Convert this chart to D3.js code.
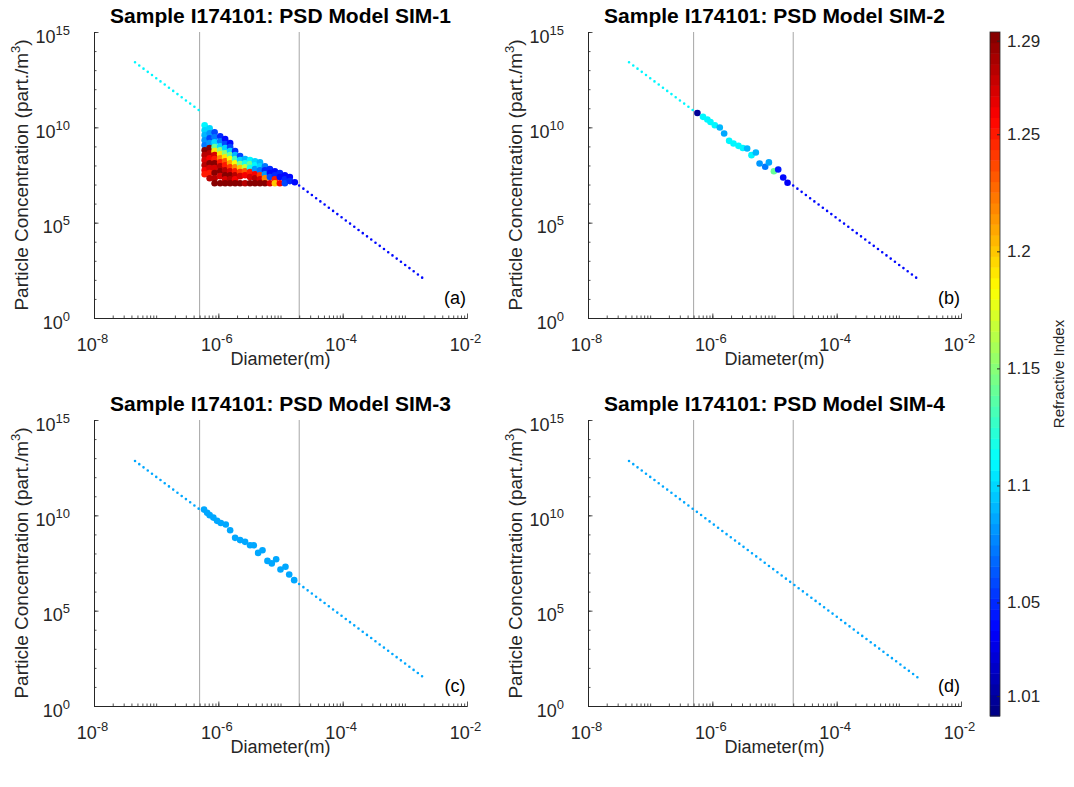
<!DOCTYPE html>
<html>
<head>
<meta charset="utf-8">
<script src="https://cdn.jsdelivr.net/npm/d3@7"></script>
<style>
  body { margin: 0; background: #fff; }
  text { font-family: Helvetica, Arial, "Liberation Sans", sans-serif; }
</style>
</head>
<body>
<svg id="viz"></svg>
<script>
// ----------------------------------------------------------------------------------------------------------------
// DATA

var panelTitles = [
  "Sample I174101: PSD Model SIM-1",
  "Sample I174101: PSD Model SIM-2",
  "Sample I174101: PSD Model SIM-3",
  "Sample I174101: PSD Model SIM-4"
];
var panelTags = ["(a)", "(b)", "(c)", "(d)"];

var xTickExp = [-8, -6, -4, -2];
var yTickExp = [0, 5, 10, 15];
var windowDiam = [5e-7, 2e-5];

var cbTickVals = [1.01, 1.05, 1.1, 1.15, 1.2, 1.25, 1.29];
var cbLimits = [1.0015, 1.2937];

// fitted power-law PSD outside the measured window: [log10 D, log10 C] ends, refractive index
var fitA = [
  {from: [-7.34, 13.41], to: [-6.30, 10.87], n: 1.11},
  {from: [-4.70, 6.95], to: [-2.69, 2.04], n: 1.04}
];
var fitB = [
  {from: [-7.34, 13.41], to: [-6.30, 10.87], n: 1.11},
  {from: [-4.70, 6.95], to: [-2.69, 2.04], n: 1.04}
];
var fitC = [
  {from: [-7.34, 12.85], to: [-6.30, 10.31], n: 1.085},
  {from: [-4.70, 6.40], to: [-2.69, 1.48], n: 1.085}
];
var fitD = [
  {from: [-7.34, 12.85], to: [-2.69, 1.48], n: 1.085}
];

// simulated points inside the window: [log10 D, log10 C, refractive index]
var simA = [
  [-6.22, 10.11, 1.11], [-6.22, 9.85, 1.10], [-6.22, 9.59, 1.09], [-6.22, 9.32, 1.08], [-6.22, 9.06, 1.07],
  [-6.22, 8.80, 1.29], [-6.22, 8.54, 1.28], [-6.22, 8.28, 1.27], [-6.22, 8.01, 1.28], [-6.22, 7.75, 1.26], [-6.22, 7.54, 1.25],
  [-6.14, 9.95, 1.10], [-6.14, 9.69, 1.08], [-6.14, 9.43, 1.06], [-6.14, 9.17, 1.08], [-6.14, 8.91, 1.29],
  [-6.14, 8.64, 1.28], [-6.14, 8.38, 1.26], [-6.14, 8.12, 1.29], [-6.14, 7.86, 1.27], [-6.14, 7.60, 1.25], [-6.14, 7.33, 1.28],
  [-6.06, 9.74, 1.06], [-6.06, 9.48, 1.07], [-6.06, 9.22, 1.10], [-6.06, 8.96, 1.14], [-6.06, 8.75, 1.19], [-6.06, 8.54, 1.27],
  [-6.06, 8.33, 1.25], [-6.06, 8.12, 1.29], [-6.06, 7.86, 1.27], [-6.06, 7.60, 1.29], [-6.06, 7.33, 1.28], [-6.06, 7.07, 1.29],
  [-5.97, 9.53, 1.05], [-5.97, 9.27, 1.07], [-5.97, 9.01, 1.10], [-5.97, 8.80, 1.15], [-5.97, 8.59, 1.19], [-5.97, 8.38, 1.22],
  [-5.97, 8.17, 1.25], [-5.97, 7.96, 1.28], [-5.97, 7.70, 1.29], [-5.97, 7.44, 1.27], [-5.97, 7.07, 1.29],
  [-5.89, 9.38, 1.04], [-5.89, 9.12, 1.06], [-5.89, 8.91, 1.10], [-5.89, 8.64, 1.15], [-5.89, 8.43, 1.19], [-5.89, 8.22, 1.23],
  [-5.89, 8.01, 1.25], [-5.89, 7.75, 1.28], [-5.89, 7.49, 1.29], [-5.89, 7.28, 1.27], [-5.89, 7.07, 1.29],
  [-5.81, 9.17, 1.04], [-5.81, 8.96, 1.06], [-5.81, 8.75, 1.10], [-5.81, 8.54, 1.14], [-5.81, 8.33, 1.18], [-5.81, 8.12, 1.21],
  [-5.81, 7.91, 1.24], [-5.81, 7.70, 1.27], [-5.81, 7.49, 1.29], [-5.81, 7.28, 1.28], [-5.81, 7.07, 1.29],
  [-5.73, 8.75, 1.05], [-5.73, 8.54, 1.09], [-5.73, 8.33, 1.13], [-5.73, 8.12, 1.18], [-5.73, 7.91, 1.22],
  [-5.73, 7.70, 1.25], [-5.73, 7.49, 1.28], [-5.73, 7.28, 1.26], [-5.73, 7.07, 1.29],
  [-5.65, 8.49, 1.06], [-5.65, 8.28, 1.10], [-5.65, 8.07, 1.15], [-5.65, 7.86, 1.20], [-5.65, 7.65, 1.24],
  [-5.65, 7.44, 1.27], [-5.65, 7.07, 1.29],
  [-5.57, 8.33, 1.09], [-5.57, 8.12, 1.12], [-5.57, 7.91, 1.17], [-5.57, 7.70, 1.23], [-5.57, 7.49, 1.26], [-5.57, 7.07, 1.28],
  [-5.49, 8.28, 1.11], [-5.49, 8.07, 1.14], [-5.49, 7.86, 1.12], [-5.49, 7.65, 1.25], [-5.49, 7.39, 1.27], [-5.49, 7.07, 1.29],
  [-5.41, 8.22, 1.10], [-5.41, 8.01, 1.11], [-5.41, 7.81, 1.08], [-5.41, 7.54, 1.26], [-5.41, 7.33, 1.28], [-5.41, 7.07, 1.29],
  [-5.33, 8.17, 1.09], [-5.33, 7.96, 1.10], [-5.33, 7.75, 1.07], [-5.33, 7.49, 1.24], [-5.33, 7.28, 1.27], [-5.33, 7.07, 1.29],
  [-5.25, 7.96, 1.07], [-5.25, 7.75, 1.05], [-5.25, 7.54, 1.08], [-5.25, 7.33, 1.22], [-5.25, 7.07, 1.29],
  [-5.17, 7.81, 1.05], [-5.17, 7.60, 1.04], [-5.17, 7.39, 1.06], [-5.17, 7.07, 1.27],
  [-5.09, 7.70, 1.04], [-5.09, 7.49, 1.05], [-5.09, 7.28, 1.25], [-5.09, 7.07, 1.20],
  [-5.01, 7.60, 1.05], [-5.01, 7.39, 1.04], [-5.01, 7.07, 1.26],
  [-4.93, 7.49, 1.04], [-4.93, 7.28, 1.05], [-4.93, 7.07, 1.06],
  [-4.85, 7.39, 1.04], [-4.85, 7.18, 1.05],
  [-4.77, 7.12, 1.04]
];

var simB = [
  [-6.24, 10.75, 1.01], [-6.15, 10.55, 1.11], [-6.08, 10.41, 1.11], [-6.03, 10.28, 1.11], [-5.96, 10.11, 1.11],
  [-5.88, 9.99, 1.09], [-5.81, 9.68, 1.085], [-5.73, 9.29, 1.11], [-5.66, 9.15, 1.11], [-5.58, 9.03, 1.11],
  [-5.51, 8.92, 1.11], [-5.44, 8.89, 1.09], [-5.37, 8.54, 1.11], [-5.30, 8.68, 1.09], [-5.24, 8.10, 1.08],
  [-5.15, 7.93, 1.07], [-5.09, 8.16, 1.085], [-5.01, 7.70, 1.14], [-4.94, 7.79, 1.045], [-4.86, 7.37, 1.04],
  [-4.79, 7.09, 1.035]
];

var simC = [
  [-6.23, 10.30, 1.085], [-6.18, 10.13, 1.085], [-6.14, 10.01, 1.085], [-6.08, 9.88, 1.085], [-6.02, 9.71, 1.085],
  [-5.96, 9.60, 1.085], [-5.88, 9.52, 1.085], [-5.81, 9.22, 1.085], [-5.73, 8.82, 1.085], [-5.65, 8.70, 1.085],
  [-5.57, 8.61, 1.085], [-5.49, 8.43, 1.085], [-5.43, 8.43, 1.085], [-5.36, 8.03, 1.085], [-5.29, 8.17, 1.085],
  [-5.21, 7.61, 1.085], [-5.14, 7.48, 1.085], [-5.07, 7.70, 1.085], [-5.00, 7.16, 1.085], [-4.92, 7.30, 1.085],
  [-4.86, 6.90, 1.085], [-4.78, 6.60, 1.085]
];

var simD = [];

var fits = [fitA, fitB, fitC, fitD];
var sims = [simA, simB, simC, simD];


// ----------------------------------------------------------------------------------------------------------------
// INITIAL SETUP

var w = 1074;
var h = 787;
var viz = d3.select("#viz").attr("width", w).attr("height", h);

var pw = 373, ph = 286;
var origins = [[94, 32], [588, 32], [94, 420], [588, 420]];
var axisColor = "#262626";

var x = d3.scaleLog().domain([1e-8, 1e-2]).range([0, pw]);
var y = d3.scaleLog().domain([1, 1e15]).range([ph, 0]);
var nScale = d3.scaleLinear().domain(cbLimits).range([0, 1]).clamp(true);

// matlab style jet, 64 steps
function jet(t) {
  function c(v) { return Math.max(0, Math.min(1, v)); }
  var r = c(1.5 - Math.abs(4 * t - 3));
  var g = c(1.5 - Math.abs(4 * t - 2));
  var b = c(1.5 - Math.abs(4 * t - 1));
  return d3.rgb(r * 255, g * 255, b * 255).formatHex();
}
function nColor(n) {
  var k = Math.min(63, Math.floor(nScale(n) * 64));
  return jet((k + 0.5) / 64);
}

// replace tick text with "10" + superscript
function powerLabel(sel, exp) {
  sel.text("10").append("tspan").attr("dy", -8).attr("font-size", 13).text(exp);
}


// ----------------------------------------------------------------------------------------------------------------
// PANELS

origins.forEach(function(o, i) {
  var g = viz.append("g").attr("transform", "translate(" + o[0] + "," + o[1] + ")");

  // window edges
  g.selectAll("line.win")
    .data(windowDiam)
    .enter()
    .append("line")
    .attr("class", "win")
    .attr("x1", function(d) { return x(d); })
    .attr("x2", function(d) { return x(d); })
    .attr("y1", 0)
    .attr("y2", ph)
    .attr("stroke", "#a6a6a6")
    .attr("stroke-width", 1);

  // minor ticks
  var xMinor = [];
  for (var e = -8; e < -2; e++) {
    for (var k = 1; k < 10; k++) xMinor.push(k * Math.pow(10, e));
  }
  var yMinor = d3.range(0, 16).map(function(e) { return Math.pow(10, e); });

  var gxm = g.append("g").attr("transform", "translate(0," + ph + ")")
    .call(d3.axisBottom(x).tickValues(xMinor).tickSizeInner(-2.5).tickSizeOuter(0).tickFormat(""));
  var gym = g.append("g")
    .call(d3.axisLeft(y).tickValues(yMinor).tickSizeInner(-2.5).tickSizeOuter(0).tickFormat(""));

  var gx = g.append("g").attr("transform", "translate(0," + ph + ")")
    .call(d3.axisBottom(x).tickValues(xTickExp.map(function(e) { return Math.pow(10, e); }))
      .tickSizeInner(-4.5).tickSizeOuter(0));
  var gy = g.append("g")
    .call(d3.axisLeft(y).tickValues(yTickExp.map(function(e) { return Math.pow(10, e); }))
      .tickSizeInner(-4.5).tickSizeOuter(0));

  [gxm, gym, gx, gy].forEach(function(a) {
    a.selectAll("path.domain").attr("stroke", axisColor).attr("stroke-width", 1);
    a.selectAll(".tick line").attr("stroke", axisColor).attr("stroke-width", 0.8);
  });

  gx.selectAll("text")
    .attr("y", 33).attr("dy", null).attr("dx", -2)
    .attr("font-size", 18).attr("fill", axisColor)
    .attr("font-family", null)
    .each(function(d, j) { powerLabel(d3.select(this), xTickExp[j]); });

  gy.selectAll("text")
    .attr("x", -24).attr("dy", null).attr("y", 10)
    .attr("font-size", 18).attr("fill", axisColor)
    .attr("font-family", null)
    .each(function(d, j) { powerLabel(d3.select(this), yTickExp[j]); });

  // fitted psd, drawn dotted
  var line = d3.line()
    .x(function(p) { return x(Math.pow(10, p[0])); })
    .y(function(p) { return y(Math.pow(10, p[1])); });

  g.selectAll("path.fit")
    .data(fits[i])
    .enter()
    .append("path")
    .attr("class", "fit")
    .attr("d", function(d) { return line([d.from, d.to]); })
    .attr("fill", "none")
    .attr("stroke", function(d) { return nColor(d.n); })
    .attr("stroke-width", 2.6)
    .attr("stroke-linecap", "round")
    .attr("stroke-dasharray", "0 5.3");

  // simulated points
  g.selectAll("circle.sim")
    .data(sims[i])
    .enter()
    .append("circle")
    .attr("class", "sim")
    .attr("cx", function(d) { return x(Math.pow(10, d[0])); })
    .attr("cy", function(d) { return y(Math.pow(10, d[1])); })
    .attr("r", 3.3)
    .attr("fill", function(d) { return nColor(d[2]); });

  // title
  g.append("text")
    .attr("x", pw / 2)
    .attr("y", -9)
    .attr("text-anchor", "middle")
    .attr("font-size", 21)
    .attr("font-weight", "bold")
    .attr("fill", "#000")
    .text(panelTitles[i]);

  // axis labels
  g.append("text")
    .attr("x", pw / 2)
    .attr("y", ph + 47)
    .attr("text-anchor", "middle")
    .attr("font-size", 18)
    .attr("fill", axisColor)
    .text("Diameter(m)");

  var yl = g.append("text")
    .attr("transform", "translate(-66," + (ph / 2) + ") rotate(-90)")
    .attr("text-anchor", "middle")
    .attr("font-size", 19)
    .attr("fill", axisColor)
    .text("Particle Concentration (part./m");
  yl.append("tspan").attr("dy", -8).attr("font-size", 13).text("3");
  yl.append("tspan").attr("dy", 8).text(")");

  // panel tag
  g.append("text")
    .attr("x", pw - 12)
    .attr("y", ph - 14)
    .attr("text-anchor", "middle")
    .attr("font-size", 18)
    .attr("fill", "#000")
    .text(panelTags[i]);
});


// ----------------------------------------------------------------------------------------------------------------
// COLORBAR

var cbX = 990, cbY = 32, cbW = 10, cbH = 684;
var cbScale = d3.scaleLinear().domain(cbLimits).range([cbY + cbH, cbY]);
var steps = d3.range(64);
var stepH = cbH / 64;

viz.selectAll("rect.cb")
  .data(steps)
  .enter()
  .append("rect")
  .attr("class", "cb")
  .attr("x", cbX)
  .attr("y", function(d) { return cbY + cbH - (d + 1) * stepH; })
  .attr("width", cbW)
  .attr("height", stepH + 0.5)
  .attr("fill", function(d) { return jet((d + 0.5) / 64); });

viz.append("rect")
  .attr("x", cbX).attr("y", cbY).attr("width", cbW).attr("height", cbH)
  .attr("fill", "none").attr("stroke", axisColor).attr("stroke-width", 0.8);

var cbAxis = viz.append("g")
  .attr("transform", "translate(" + (cbX + cbW) + ",0)")
  .call(d3.axisRight(cbScale).tickValues(cbTickVals).tickSizeInner(-3).tickSizeOuter(0)
    .tickFormat(function(d) { return d3.format("")(d); }));
cbAxis.select("path.domain").remove();
cbAxis.selectAll(".tick line").attr("stroke", axisColor);
cbAxis.selectAll("text")
  .attr("x", 7).attr("font-size", 17).attr("fill", axisColor).attr("font-family", null);

viz.append("text")
  .attr("transform", "translate(1064," + (cbY + cbH / 2) + ") rotate(-90)")
  .attr("text-anchor", "middle")
  .attr("font-size", 15)
  .attr("fill", axisColor)
  .text("Refractive Index");
</script>
</body>
</html>
